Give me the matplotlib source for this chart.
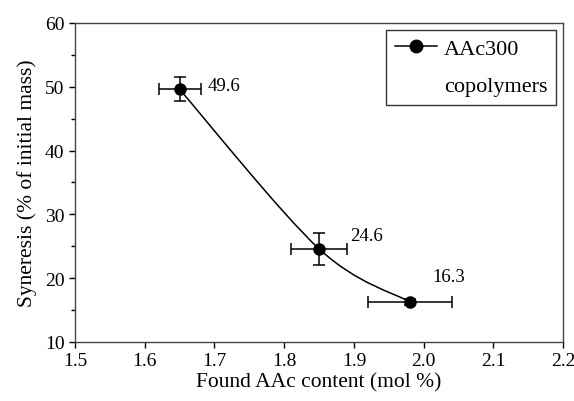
import matplotlib
matplotlib.use('Agg')
import matplotlib.pyplot as plt
from matplotlib.path import Path
from matplotlib.patches import PathPatch
from matplotlib.lines import Line2D
from matplotlib.ticker import MultipleLocator

plt.rcParams['font.family'] = ['Liberation Serif', 'DejaVu Serif']

# data
aac = [1.65, 1.85, 1.98]
syneresis = [49.6, 24.6, 16.3]
aac_err = [0.03, 0.04, 0.06]
syn_err = [1.9, 2.5, 0.5]
labels = ['49.6', '24.6', '16.3']
label_offsets = [(28, 4), (31, 13), (23, 25)]

fig = plt.figure(figsize=(5.74, 4.02), dpi=100)
ax = fig.add_axes([0.1307, 0.1468, 0.8503, 0.7935])

# smooth line through the points (Catmull-Rom as cubic Bezier)
pts = list(zip(aac, syneresis))
verts = [pts[0]]
codes = [Path.MOVETO]
n = len(pts)
for i in range(n - 1):
    p0 = pts[i - 1] if i > 0 else pts[i]
    p1 = pts[i]
    p2 = pts[i + 1]
    p3 = pts[i + 2] if i + 2 < n else pts[i + 1]
    c1 = (p1[0] + (p2[0] - p0[0]) / 6, p1[1] + (p2[1] - p0[1]) / 6)
    c2 = (p2[0] - (p3[0] - p1[0]) / 6, p2[1] - (p3[1] - p1[1]) / 6)
    verts += [c1, c2, p2]
    codes += [Path.CURVE4] * 3
ax.add_patch(PathPatch(Path(verts, codes), fill=False, color='black', lw=1.1))

ax.errorbar(aac, syneresis, xerr=aac_err, yerr=syn_err, fmt='o', color='black',
            markersize=8, elinewidth=1.1, capsize=4, capthick=1.1)

for x, y, t, off in zip(aac, syneresis, labels, label_offsets):
    ax.annotate(t, (x, y), xytext=off, textcoords='offset pixels',
                fontsize=13.5, ha='left', va='center')

ax.set_xlim(1.5, 2.2)
ax.set_ylim(10, 60)
ax.xaxis.set_major_locator(MultipleLocator(0.1))
ax.yaxis.set_major_locator(MultipleLocator(10))
ax.yaxis.set_minor_locator(MultipleLocator(5))
ax.xaxis.set_major_formatter(plt.FormatStrFormatter('%.1f'))
ax.tick_params(axis='both', which='major', labelsize=14, direction='out', length=4, width=1)
ax.tick_params(axis='y', which='minor', direction='out', length=3, width=1)
for s in ax.spines.values():
    s.set_linewidth(1)
    s.set_color('#444444')

ax.set_xlabel('Found AAc content (mol %)', fontsize=15.5, labelpad=2)
ax.set_ylabel('Syneresis (% of initial mass)', fontsize=15.5, labelpad=6)

handles = [Line2D([], [], color='black', marker='o', markersize=9, lw=1.1),
           Line2D([], [], color='none')]
leg = ax.legend(handles, ['AAc300', 'copolymers'], loc='upper right', fontsize=16,
                frameon=True, fancybox=False, borderaxespad=0.3, handlelength=1.9,
                handletextpad=0.3, labelspacing=0.72, borderpad=0.4)
leg.get_frame().set_edgecolor('black')
leg.get_frame().set_linewidth(1)

fig.savefig('out.png', dpi=100)
